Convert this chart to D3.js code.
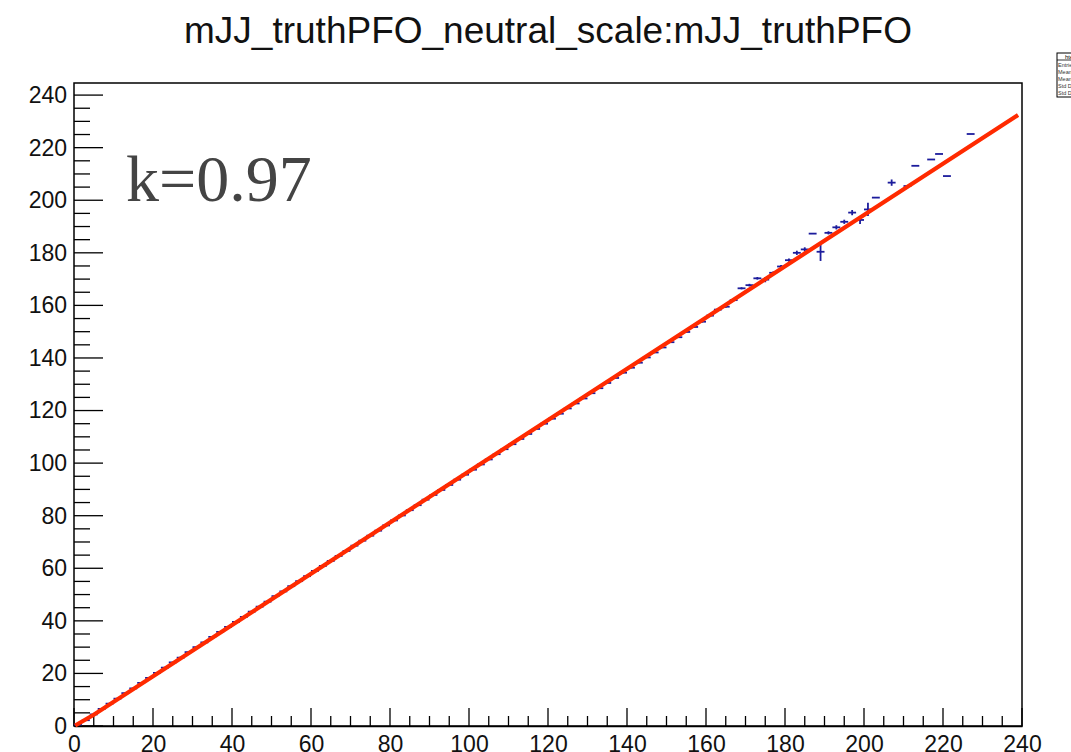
<!DOCTYPE html>
<html>
<head>
<meta charset="utf-8">
<script src="https://cdn.jsdelivr.net/npm/d3@7"></script>
<style>
  body { margin: 0; background: #fff; }
  svg { display: block; }
</style>
</head>
<body>
<script>
// profile bins: centres (width 2), mean y, error on mean
var binX = [1,3,5,7,9,11,13,15,17,19,21,23,25,27,29,31,33,35,37,39,
  41,43,45,47,49,51,53,55,57,59,61,63,65,67,69,71,73,75,77,79,
  81,83,85,87,89,91,93,95,97,99,101,103,105,107,109,111,113,115,117,119,
  121,123,125,127,129,131,133,135,137,139,141,143,145,147,149,151,153,155,157,159,
  161,163,165,167,169,171,173,175,177,179,181,183,185,187,189,191,193,195,197,199,
  201,203,207,211,213,217,219,221,227];
var binY = [0.5,2.2,4.4,6.5,8.5,10.4,12.5,14.3,16.4,18.3,20.2,22.2,24.2,26.0,28.1,30.0,31.8,33.9,35.8,37.7,
  39.6,41.5,43.5,45.4,47.3,49.4,51.2,53.2,55.1,57.0,59.0,60.9,62.8,64.7,66.6,68.6,70.5,72.4,74.3,76.3,
  78.2,80.1,82.1,84.0,86.1,87.9,89.8,91.7,93.7,95.6,97.5,99.5,101.4,103.4,105.3,107.2,109.2,111.1,113.0,115.0,
  116.9,118.8,120.8,122.7,124.6,126.6,128.5,130.5,132.4,134.4,136.3,138.2,140.2,142.1,144.0,146.0,147.9,149.9,151.8,153.8,
  156.1,158.4,159.5,162.0,166.5,167.7,170.3,169.8,172.4,174.8,177.2,180.0,181.3,187.3,180.4,187.6,189.7,191.8,195.3,192.5,
  196.5,201.0,206.7,205.4,213.1,215.5,217.6,209.2,225.2];
var binErr = [0.3,0.2,0.2,0.1,0.1,0.1,0.1,0.1,0.1,0.1,0.1,0.1,0.1,0.1,0.1,0.1,0.1,0.1,0.1,0.1,
  0.1,0.1,0.1,0.1,0.1,0.1,0.1,0.1,0.1,0.1,0.1,0.1,0.1,0.1,0.1,0.1,0.1,0.1,0.1,0.1,
  0.1,0.1,0.1,0.1,0.1,0.1,0.1,0.1,0.1,0.1,0.1,0.1,0.1,0.1,0.1,0.1,0.1,0.1,0.1,0.1,
  0.1,0.1,0.1,0.1,0.1,0.1,0.1,0.1,0.1,0.2,0.2,0.2,0.2,0.2,0.2,0.2,0.2,0.3,0.3,0.3,
  0.3,0.3,0.4,0.4,0.4,0.5,0.5,1.0,0.5,0.6,0.6,0.8,0.8,0,3.5,0.6,0.8,0.8,1.0,1.5,
  2.5,0,1.2,0,0,0,0,0,0];
// fitted line (k = 0.97)
var fitX = [0.3, 5, 239];
var fitY = [0.2, 4.3, 232.4];
var xTicks = d3.range(0, 241, 20);
var yTicks = d3.range(0, 241, 20);
var title = "mJJ_truthPFO_neutral_scale:mJJ_truthPFO";
var label = "k=0.97";
var statsRows = ["Entries", "Mean x", "Mean y", "Std Dev x", "Std Dev y"];

var W = 1071, H = 752;
var padL = 74, padR = 1022, padT = 83, padB = 726;

var svg = d3.select("body").append("svg")
  .attr("width", W).attr("height", H)
  .style("font-family", "'Liberation Sans', Arial, sans-serif");

var x = d3.scaleLinear().domain([0, 240]).range([padL, padR]);
var y = d3.scaleLinear().domain([0, 244.6]).range([padB, padT]);

// title
svg.append("text")
  .attr("x", 548).attr("y", 43)
  .attr("text-anchor", "middle")
  .attr("font-size", 37)
  .attr("fill", "#111")
  .text(title);

// frame
svg.append("rect")
  .attr("x", padL).attr("y", padT)
  .attr("width", padR - padL).attr("height", padB - padT)
  .attr("fill", "none").attr("stroke", "#000").attr("stroke-width", 1.5);

// x axis, ROOT style ticks pointing up
var xMinor = d3.range(0, 241, 5).filter(function(v) { return v % 20 != 0; });
var xAxis = svg.append("g").attr("transform", "translate(0," + padB + ")");
xAxis.call(d3.axisBottom(x).tickValues(xTicks).tickSize(0).tickPadding(10).tickFormat(d3.format("d")));
xAxis.select(".domain").attr("stroke-width", 1.5);
xAxis.selectAll("text").attr("font-size", 23).attr("fill", "#111").attr("font-family", "'Liberation Sans', Arial, sans-serif");
xAxis.selectAll(".tick line").remove();
xAxis.selectAll("line.maj").data(xTicks).enter().append("line")
  .attr("x1", function(d) { return x(d); }).attr("x2", function(d) { return x(d); })
  .attr("y1", 0).attr("y2", -18).attr("stroke", "#000").attr("stroke-width", 1.3);
xAxis.selectAll("line.min").data(xMinor).enter().append("line")
  .attr("x1", function(d) { return x(d); }).attr("x2", function(d) { return x(d); })
  .attr("y1", 0).attr("y2", -10).attr("stroke", "#000").attr("stroke-width", 1.3);

// y axis, ticks pointing right
var yMinor = d3.range(0, 245, 5).filter(function(v) { return v % 20 != 0; });
var yAxis = svg.append("g").attr("transform", "translate(" + padL + ",0)");
yAxis.call(d3.axisLeft(y).tickValues(yTicks).tickSize(0).tickPadding(7).tickFormat(d3.format("d")));
yAxis.select(".domain").remove();
yAxis.selectAll("text").attr("font-size", 23).attr("fill", "#111").attr("font-family", "'Liberation Sans', Arial, sans-serif");
yAxis.selectAll("line.maj").data(yTicks).enter().append("line")
  .attr("y1", function(d) { return y(d); }).attr("y2", function(d) { return y(d); })
  .attr("x1", 0).attr("x2", 29).attr("stroke", "#000").attr("stroke-width", 1.3);
yAxis.selectAll("line.min").data(yMinor).enter().append("line")
  .attr("y1", function(d) { return y(d); }).attr("y2", function(d) { return y(d); })
  .attr("x1", 0).attr("x2", 16).attr("stroke", "#000").attr("stroke-width", 1.3);

// profile points
var pts = binX.map(function(v, i) { return { x: v, y: binY[i], e: binErr[i] }; });
var blue = "#1c1c9c";
var g = svg.append("g").attr("stroke", blue).attr("stroke-width", 1.8);
g.selectAll("line.h").data(pts).enter().append("line")
  .attr("x1", function(d) { return x(d.x - 1); }).attr("x2", function(d) { return x(d.x + 1); })
  .attr("y1", function(d) { return y(d.y); }).attr("y2", function(d) { return y(d.y); });
g.selectAll("line.v").data(pts.filter(function(d) { return d.e > 0; })).enter().append("line")
  .attr("x1", function(d) { return x(d.x); }).attr("x2", function(d) { return x(d.x); })
  .attr("y1", function(d) { return y(d.y - d.e); }).attr("y2", function(d) { return y(d.y + d.e); });

// fit line
var line = d3.line().x(function(d) { return x(d[0]); }).y(function(d) { return y(d[1]); });
svg.append("path")
  .datum(fitX.map(function(v, i) { return [v, fitY[i]]; }))
  .attr("d", line)
  .attr("fill", "none").attr("stroke", "#ff2a00").attr("stroke-width", 4.2);

// k label
svg.append("text")
  .attr("x", 126).attr("y", 201)
  .attr("font-family", "'Liberation Serif', 'Times New Roman', serif")
  .attr("font-size", 66)
  .attr("fill", "#444")
  .text(label);

// tiny stats box (cut by the page edge)
var sb = svg.append("g").attr("transform", "translate(1057,53)");
sb.append("rect").attr("width", 30).attr("height", 44)
  .attr("fill", "#fff").attr("stroke", "#000").attr("stroke-width", 1);
sb.append("line").attr("x1", 0).attr("x2", 30).attr("y1", 7).attr("y2", 7).attr("stroke", "#000").attr("stroke-width", 0.8);
sb.append("text").attr("x", 8).attr("y", 5.5).attr("font-size", 6).text("htemp");
sb.selectAll("text.r").data(statsRows).enter().append("text")
  .attr("x", 1).attr("y", function(d, i) { return 14 + i * 7; })
  .attr("font-size", 5.5).attr("fill", "#333")
  .text(function(d) { return d; });
</script>
</body>
</html>
